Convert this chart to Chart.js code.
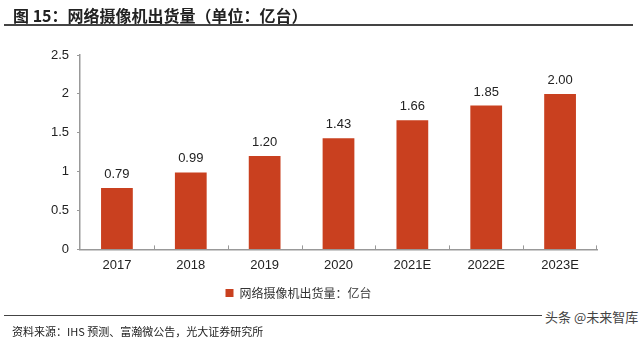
<!DOCTYPE html>
<html>
<head>
<meta charset="utf-8">
<script src="https://cdn.jsdelivr.net/npm/chart.js@4/dist/chart.umd.min.js"></script>
<style>
  body { margin: 0; background: #fff; font-family: "Liberation Sans", "Noto Sans CJK SC", sans-serif; }
  #wrap { position: relative; width: 640px; height: 342px; overflow: hidden; }
  #chart { position: absolute; left: 0; top: 0; }
  .title { position: absolute; left: 13px; top: 3px; font-size: 16px; font-weight: bold; color: #222;
           font-family: "Noto Sans CJK SC", sans-serif; white-space: nowrap; }
  .rule { position: absolute; height: 2px; background: #444; }
  .source { position: absolute; left: 12px; top: 323px; font-size: 11px; color: #222;
            font-family: "Noto Sans CJK SC", sans-serif; white-space: nowrap; }
  .mark { position: absolute; left: 542px; top: 307px; font-size: 13px; color: #444; line-height: 20px;
          font-family: "Noto Sans CJK SC", sans-serif; background: #fff; padding: 0 3px; white-space: nowrap; }
</style>
</head>
<body>
<div id="wrap">
  <canvas id="chart" width="640" height="342"></canvas>
  <div class="title">图 15：网络摄像机出货量（单位：亿台）</div>
  <div class="rule" style="left:4px; top:24px; width:629px;"></div>
  <div class="rule" style="left:4px; top:315px; width:620px; height:1px;"></div>
  <div class="mark">头条 @未来智库</div>
  <div class="source">资料来源：IHS 预测、富瀚微公告，光大证券研究所</div>
</div>
<script>
const years = ['2017', '2018', '2019', '2020', '2021E', '2022E', '2023E'];
const shipments = [0.79, 0.99, 1.20, 1.43, 1.66, 1.85, 2.00];
const seriesName = '网络摄像机出货量：亿台';

const barLabels = {
    id: 'barLabels',
    afterDatasetsDraw(chart) {
        const ctx = chart.ctx;
        const meta = chart.getDatasetMeta(0);
        ctx.save();
        ctx.font = '13px "Liberation Sans", sans-serif';
        ctx.fillStyle = '#222';
        ctx.textAlign = 'center';
        ctx.textBaseline = 'bottom';
        meta.data.forEach(function(bar, i) {
            ctx.fillText(shipments[i].toFixed(2), bar.x, bar.y - 7);
        });
        ctx.restore();
    }
};

// small tick marks between categories, pointing up from the axis
const innerTicks = {
    id: 'innerTicks',
    afterDraw(chart) {
        const ctx = chart.ctx;
        const x = chart.scales.x;
        const area = chart.chartArea;
        ctx.save();
        ctx.strokeStyle = '#999';
        ctx.lineWidth = 1;
        for (let i = 1; i < years.length; i++) {
            const px = Math.round((x.getPixelForValue(i - 1) + x.getPixelForValue(i)) / 2) + 0.5;
            ctx.beginPath();
            ctx.moveTo(px, area.bottom);
            ctx.lineTo(px, area.bottom - 4);
            ctx.stroke();
        }
        ctx.beginPath();
        ctx.moveTo(area.right - 0.5, area.bottom);
        ctx.lineTo(area.right - 0.5, area.bottom - 4);
        ctx.stroke();
        ctx.restore();
    }
};

new Chart(document.getElementById('chart').getContext('2d'), {
    type: 'bar',
    data: {
        labels: years,
        datasets: [{
            label: seriesName,
            data: shipments,
            backgroundColor: '#C9401F',
            categoryPercentage: 0.86,
            barPercentage: 0.5
        }]
    },
    options: {
        responsive: false,
        animation: false,
        layout: { padding: { top: 55, right: 43, bottom: 33, left: 0 } },
        plugins: {
            legend: {
                position: 'bottom',
                labels: {
                    boxWidth: 8,
                    boxHeight: 8,
                    padding: 6,
                    color: '#333',
                    font: { size: 12, family: '"Noto Sans CJK SC", sans-serif' }
                }
            },
            tooltip: { enabled: false }
        },
        scales: {
            x: {
                grid: { display: false, drawTicks: false },
                border: { color: '#999', width: 1.5 },
                ticks: { color: '#222', padding: 8, font: { size: 13, family: '"Liberation Sans", sans-serif' } }
            },
            y: {
                min: 0,
                max: 2.5,
                afterFit: function(scale) { scale.width = 80; },
                grid: { drawOnChartArea: false, tickLength: 3, color: '#999' },
                border: { color: '#999', width: 1.5 },
                ticks: {
                    stepSize: 0.5, color: '#222', padding: 8,
                    font: { size: 13, family: '"Liberation Sans", sans-serif' },
                    callback: function(value) { return String(value); }
                }
            }
        }
    },
    plugins: [barLabels, innerTicks]
});
</script>
</body>
</html>
